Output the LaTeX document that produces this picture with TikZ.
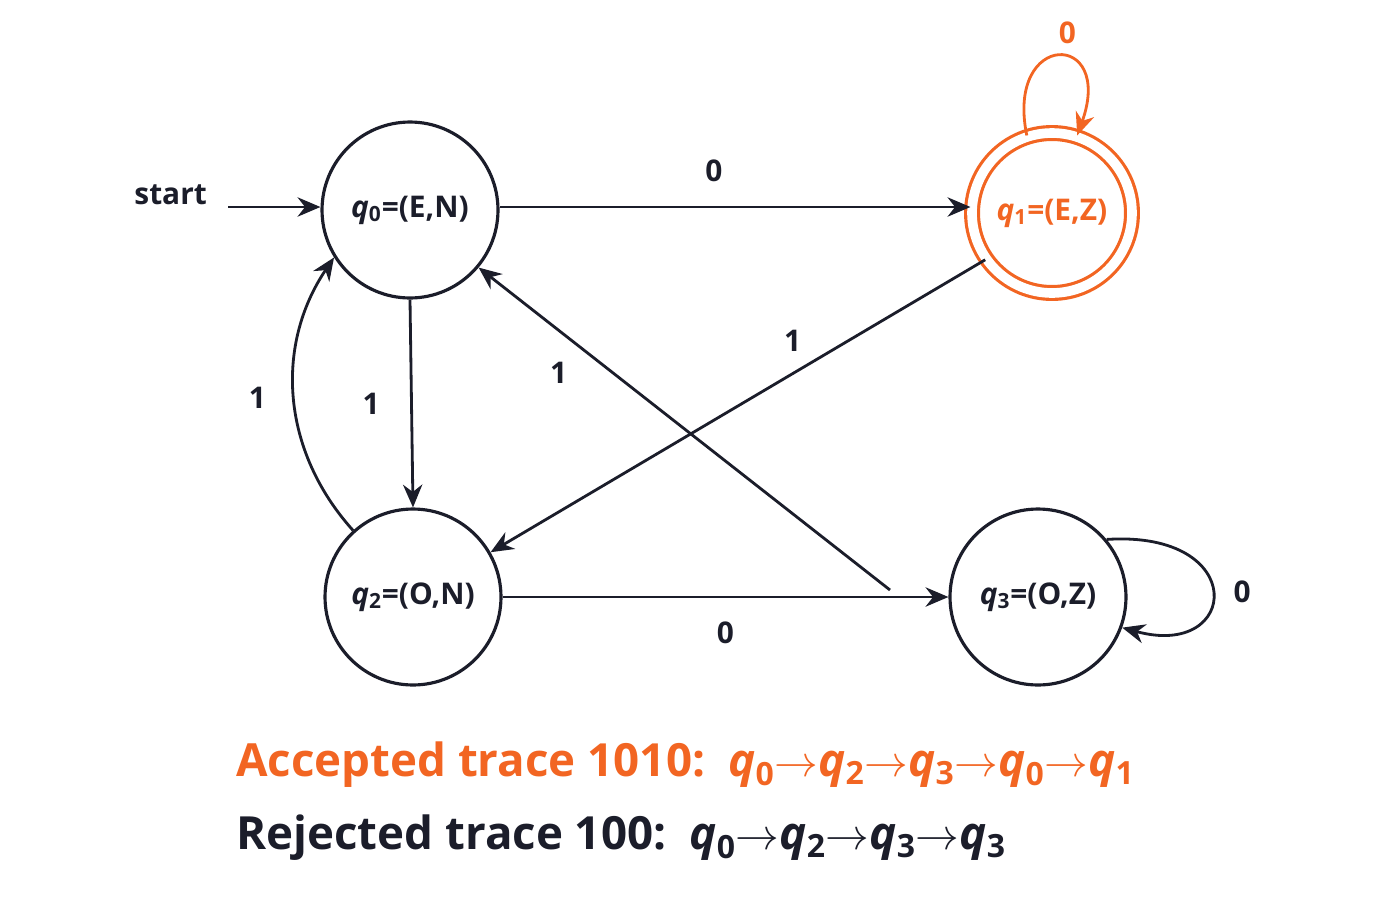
\documentclass[tikz,border=0pt]{standalone}
\usepackage{fontspec}
\setmainfont{Open Sans}
\usetikzlibrary{arrows.meta}
\definecolor{ink}{HTML}{1B1D2A}
\definecolor{acc}{HTML}{F26522}
\begin{document}
\begin{tikzpicture}[x=0.02cm,y=-0.02cm,
  st/.style={circle,draw=ink,line width=1.8pt,minimum size=3.52cm,inner sep=0pt,text=ink,font=\fontsize{17}{20}\selectfont\bfseries},
  ed/.style={draw=ink,line width=1.6pt,-{Stealth[length=13pt,width=11pt]}},
  lb/.style={text=ink,font=\fontsize{17}{19}\selectfont\bfseries}]
\useasboundingbox (0,0) rectangle (1400,900);
\node[st] (q0) at (410,210) {\textit{q}\textsubscript{0}=(E,N)};
\node[st,draw=acc,text=acc,minimum size=3.2cm,double=white,double distance=5.5pt] (q1) at (1052,213) {\textit{q}\textsubscript{1}=(E,Z)};
\node[st] (q2) at (413,597) {\textit{q}\textsubscript{2}=(O,N)};
\node[st] (q3) at (1038,597) {\textit{q}\textsubscript{3}=(O,Z)};
\node[lb,anchor=east] (start) at (213,195) {start};
\coordinate (s0) at (228,207);
\draw[ed] (s0) -- (q0.west |- s0);
\draw[ed] (q0.east |- 0,207) -- node[lb,above=10pt,xshift=-12pt]{0} (q1.west |- 0,207);
\draw[ed] (q0.south) -- node[lb,left=14pt]{1} (q2.north);
\draw[ed] (q2.132) to[bend left=38] node[lb,left=12pt]{1} (q0.212);
\draw[ed] (q1.215) -- node[lb,above left=2pt,pos=0.35]{1} (q2.30);
\coordinate (c3) at (890,590);
\draw[ed] (c3) -- node[lb,pos=0.75,below left=4pt]{1} (q0.320);
\draw[ed] (q2.east |- 0,597) -- node[lb,below=10pt]{0} (q3.west |- 0,597);
\draw[ed,draw=acc] (q1.108) .. controls (1005,30) and (1115,30) .. node[lb,text=acc,above=4pt,pos=0.58]{0} (q1.72);
\draw[ed] (q3.40) .. controls (1250,530) and (1240,660) .. node[lb,right=8pt,pos=0.5]{0} (q3.-20);
\node[anchor=west,text=acc,font=\fontsize{26}{32}\selectfont\bfseries] (acc) at (230,765) {Accepted trace 1010:\, \textit{q}\textsubscript{0}$\to$\textit{q}\textsubscript{2}$\to$\textit{q}\textsubscript{3}$\to$\textit{q}\textsubscript{0}$\to$\textit{q}\textsubscript{1}};
\node[anchor=west,text=ink,font=\fontsize{26}{32}\selectfont\bfseries] (rej) at (230,838) {Rejected trace 100:\, \textit{q}\textsubscript{0}$\to$\textit{q}\textsubscript{2}$\to$\textit{q}\textsubscript{3}$\to$\textit{q}\textsubscript{3}};
\end{tikzpicture}
\end{document}
